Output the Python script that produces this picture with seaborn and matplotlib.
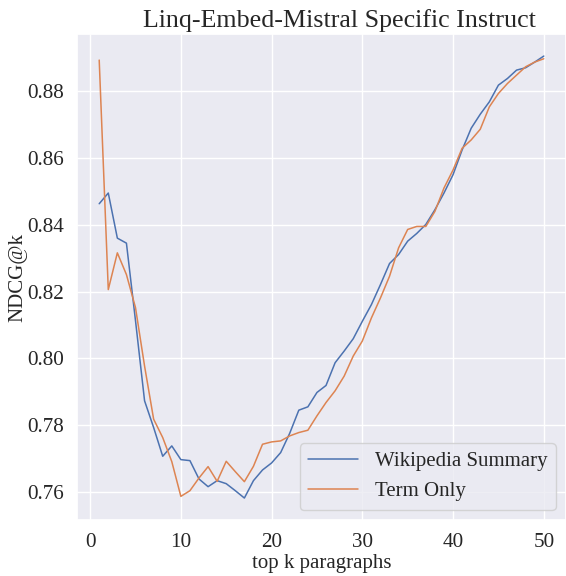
import numpy as np
import pandas as pd
import matplotlib
matplotlib.use("Agg")
import matplotlib.pyplot as plt
import seaborn as sns

top_k = list(range(1, 51))

wikipedia_summary = [
    0.8463, 0.8495, 0.8360, 0.8345, 0.8113, 0.7873, 0.7793, 0.7707, 0.7738, 0.7697,
    0.7694, 0.7639, 0.7616, 0.7634, 0.7625, 0.7604, 0.7582, 0.7634, 0.7666, 0.7687,
    0.7718, 0.7776, 0.7845, 0.7855, 0.7898, 0.7919, 0.7987, 0.8022, 0.8059, 0.8111,
    0.8161, 0.8221, 0.8284, 0.8311, 0.8351, 0.8374, 0.8401, 0.8445, 0.8495, 0.8550,
    0.8624, 0.8689, 0.8731, 0.8768, 0.8818, 0.8838, 0.8863, 0.8870, 0.8887, 0.8905,
]

term_only = [
    0.8893, 0.8206, 0.8316, 0.8251, 0.8152, 0.7977, 0.7818, 0.7763, 0.7691, 0.7587,
    0.7604, 0.7642, 0.7676, 0.7632, 0.7692, 0.7661, 0.7631, 0.7677, 0.7743, 0.7750,
    0.7753, 0.7768, 0.7778, 0.7785, 0.7828, 0.7868, 0.7903, 0.7947, 0.8007, 0.8052,
    0.8121, 0.8181, 0.8246, 0.8331, 0.8386, 0.8395, 0.8395, 0.8440, 0.8510, 0.8564,
    0.8629, 0.8654, 0.8686, 0.8753, 0.8793, 0.8823, 0.8848, 0.8873, 0.8887, 0.8897,
]

sns.set_theme(style="darkgrid")
plt.rcParams['font.family'] = ['Liberation Serif', 'DejaVu Serif']
plt.rcParams.update({
    'xtick.labelsize': 15.2,
    'ytick.labelsize': 15.2,
    'axes.labelsize': 15,
    'axes.titlesize': 18.7,
    'legend.fontsize': 15,
})

fig, ax = plt.subplots(figsize=(5.66, 5.76), dpi=100)
sns.lineplot(x=top_k, y=wikipedia_summary, label='Wikipedia Summary', linewidth=1.1, ax=ax)
sns.lineplot(x=top_k, y=term_only, label='Term Only', linewidth=1.1, ax=ax)

ax.set_title('Linq-Embed-Mistral Specific Instruct', x=0.536, pad=5)
ax.set_xlabel('top k paragraphs', labelpad=1)
ax.set_ylabel('NDCG@k', labelpad=0)
ax.legend(loc='lower right', handlelength=2.4)

fig.subplots_adjust(left=0.136, right=1.0, top=0.941, bottom=0.097)
fig.savefig('out.png', dpi=100)
